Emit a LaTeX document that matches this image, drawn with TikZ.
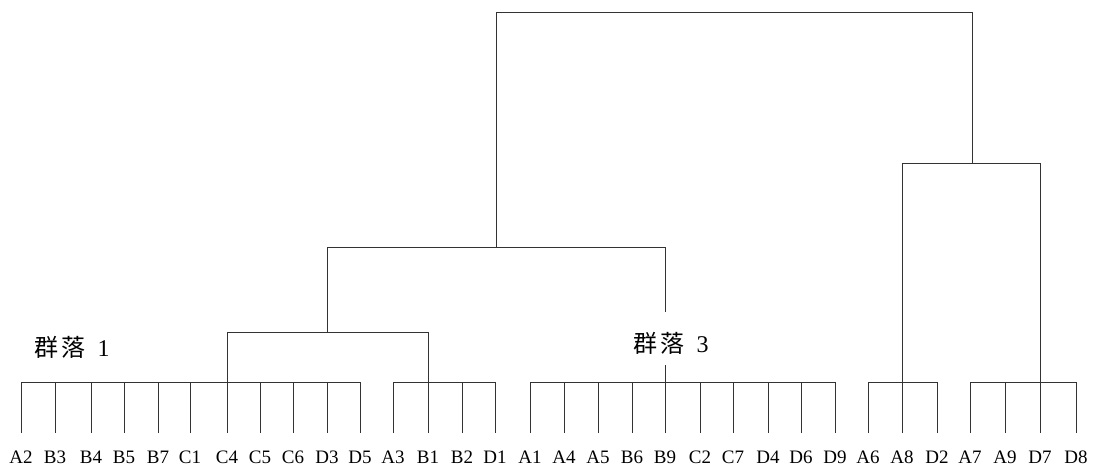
\documentclass[tikz,border=0pt]{standalone}
\usepackage{fontspec}
\setmainfont{Liberation Serif}
\newfontfamily\cjk{Noto Sans CJK TC}
\begin{document}
\begin{tikzpicture}[x=1pt,y=-1pt,line width=0.9pt,
  link/.style={draw=black!80},
  leaf/.style={font=\fontsize{19}{21}\selectfont,inner sep=0pt,anchor=base},
  grp/.style={font=\fontsize{24}{26}\selectfont,inner sep=0pt}]
\useasboundingbox (0,0) rectangle (1096,467);
\foreach \x/\t [count=\i] in {21/A2,55/B3,91/B4,124/B5,158/B7,190/C1,227/C4,260/C5,293/C6,327/D3,360/D5,
  393/A3,428/B1,462/B2,495/D1,
  530/A1,564/A4,598/A5,632/B6,665/B9,700/C2,733/C7,768/D4,801/D6,835/D9,
  868/A6,902/A8,937/D2,
  970/A7,1005/A9,1040/D7,1076/D8}{
  \node[leaf] (n\i) at (\x,463) {\t};
  \coordinate (b\i) at (\x,433);
  \coordinate (t\i) at (\x,382);
  \draw[link] (b\i) -- (t\i);
}
% leaf groups
\draw[link] (t1) -- (t11);
\draw[link] (t12) -- (t15);
\draw[link] (t16) -- (t25);
\draw[link] (t26) -- (t28);
\draw[link] (t29) -- (t32);
% cluster 1 + 2 join
\coordinate (c12l) at (227,332);
\coordinate (c12r) at (428,332);
\draw[link] (t7) -- (c12l) -- (c12r) -- (t13);
% join with cluster 3
\coordinate (k1) at (327,332);
\coordinate (k1top) at (327,247);
\coordinate (k3top) at (665,247);
\coordinate (k3a) at (665,312);
\coordinate (k3b) at (665,365);
\draw[link] (k1) -- (k1top) -- (k3top) -- (k3a);
\draw[link] (k3b) -- (t20);
% right clusters
\coordinate (r4) at (902,163);
\coordinate (r5) at (1040,163);
\draw[link] (t27) -- (r4) -- (r5) -- (t31);
% root
\coordinate (m) at (496,247);
\coordinate (mtop) at (496,12);
\coordinate (rtop) at (972,12);
\coordinate (r) at (972,163);
\draw[link] (m) -- (mtop) -- (rtop) -- (r);
% labels
\node[grp] (g1) at (72,347) {{\cjk 群\hspace{3pt}落}\hspace{12pt}1};
\node[grp] (g3) at (671,343) {{\cjk 群\hspace{3pt}落}\hspace{12pt}3};
\end{tikzpicture}
\end{document}
